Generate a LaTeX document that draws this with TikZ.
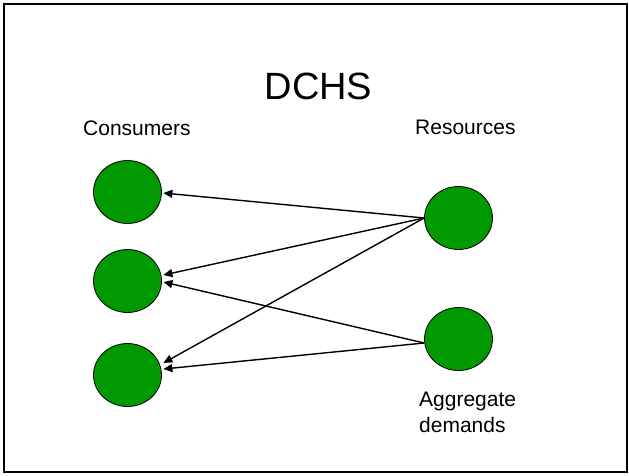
\documentclass[tikz,border=0pt]{standalone}
\usepackage{fontspec}
\setmainfont{Liberation Sans}
\usetikzlibrary{arrows.meta,shapes.geometric,calc}
\definecolor{dotgreen}{RGB}{0,153,0}
\begin{document}
\begin{tikzpicture}[x=1pt,y=-1pt,
  dot/.style={ellipse,draw=black,line width=0.8pt,fill=dotgreen,minimum width=68pt,minimum height=63pt,inner sep=0pt},
  link/.style={line width=1.4pt,-{Triangle[length=9pt,width=8pt]}},
  lbl/.style={font=\fontsize{21}{26}\selectfont,inner sep=0pt,anchor=base west,align=left}]
\useasboundingbox (0,0) rectangle (629,475);
\draw[line width=2.2pt] (4,4) rectangle (627,472);
\node[font=\fontsize{38}{44}\selectfont,inner sep=0pt,anchor=base] (title) at (318.5,99.5) {DCHS};
\node[lbl] (cons) at (83,135) {Consumers};
\node[lbl] (res) at (415,134) {Resources};
\node[lbl,anchor=north west] (agg) at (419,392) {Aggregate\\demands};
\node[dot] (c1) at (127.5,192) {};
\node[dot] (c2) at (127.5,281) {};
\node[dot] (c3) at (127.5,375) {};
\node[dot] (r1) at (458.5,218) {};
\node[dot] (r2) at (458.5,339) {};
\draw[link] (r1.west) -- ($(c1.east)+(1.5,1)$);
\draw[link] (r1.west) -- ($(c2.east)+(1.5,-6)$);
\draw[link] (r1.west) -- ($(c3.east)+(1.5,-12)$);
\draw[link] ($(r2.west)+(0,4)$) -- ($(c2.east)+(1.5,1)$);
\draw[link] ($(r2.west)+(0,4)$) -- ($(c3.east)+(1.5,-6)$);
\end{tikzpicture}
\end{document}
